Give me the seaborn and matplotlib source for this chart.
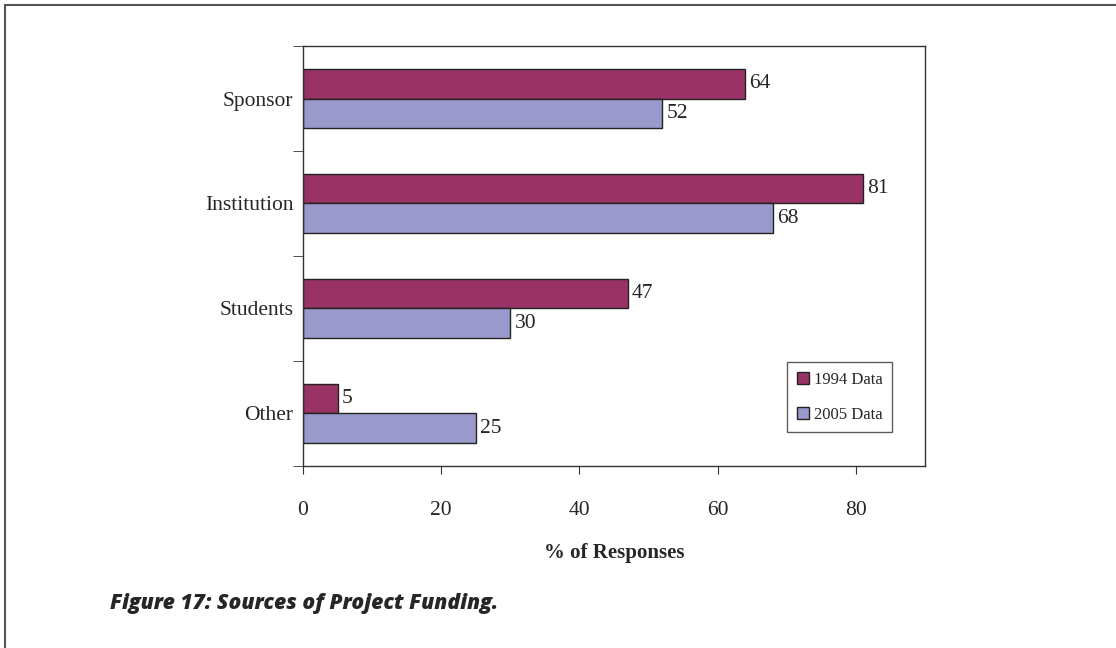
import pandas as pd
import matplotlib.pyplot as plt
import seaborn as sns
from matplotlib.ticker import FixedLocator

sources = ["Sponsor", "Institution", "Students", "Other"]
data_1994 = [64, 81, 47, 5]
data_2005 = [52, 68, 30, 25]
series = ["1994 Data", "2005 Data"]
x_ticks = [0, 20, 40, 60, 80]

df = pd.DataFrame({
    "source": sources * 2,
    "value": data_1994 + data_2005,
    "serie": [series[0]] * 4 + [series[1]] * 4,
})

sns.set_style("white")
plt.rcParams["font.family"] = ["Liberation Serif", "DejaVu Serif"]

fig = plt.figure(figsize=(11.16, 6.48), dpi=100)
ax = fig.add_axes([0.2715, 0.2809, 0.8289 - 0.2715, 0.929 - 0.2809])

sns.barplot(data=df, y="source", x="value", hue="serie", orient="h",
            order=sources, hue_order=series,
            palette=["#993366", "#9999cc"], width=0.57,
            edgecolor="#222222", linewidth=1, saturation=1, ax=ax)

for cont in ax.containers:
    ax.bar_label(cont, padding=3, fontsize=15.5)

ax.set_xlim(0, 90)
ax.set_ylim(3.5, -0.5)
ax.set_xticks(x_ticks)
ax.tick_params(axis="x", direction="out", length=6, labelsize=15.5, pad=19,
               bottom=True, color="#333333")
ax.tick_params(axis="y", which="major", length=0, labelsize=15.5, pad=7)
ax.yaxis.set_minor_locator(FixedLocator([-0.5, 0.5, 1.5, 2.5, 3.5]))
ax.tick_params(axis="y", which="minor", direction="out", length=7,
               left=True, color="#333333")
ax.set_ylabel("")
ax.set_xlabel("% of Responses", fontsize=15, fontweight="bold", labelpad=17)
for s in ax.spines.values():
    s.set_color("#333333")
    s.set_linewidth(1)

leg = ax.legend(loc="lower right", bbox_to_anchor=(0.947, 0.081), borderaxespad=0,
                fontsize=12, frameon=True, fancybox=False,
                handlelength=0.75, handleheight=0.75, handletextpad=0.3,
                labelspacing=1.15, borderpad=0.55)
leg.get_frame().set_edgecolor("#333333")
leg.get_frame().set_linewidth(1)

fig.text(110 / 1116, 1 - 604 / 648, "Figure 17: Sources of Project Funding.",
         family=["Open Sans", "DejaVu Sans"], fontweight="heavy", fontstyle="italic",
         fontsize=15.2, va="center", ha="left")

# page frame
fig.add_artist(plt.Line2D([5 / 1116, 5 / 1116], [0, 1 - 5 / 648], color="#555555", lw=1.5))
fig.add_artist(plt.Line2D([5 / 1116, 1], [1 - 5 / 648, 1 - 5 / 648], color="#555555", lw=1.5))

fig.savefig("out.png", dpi=100)
